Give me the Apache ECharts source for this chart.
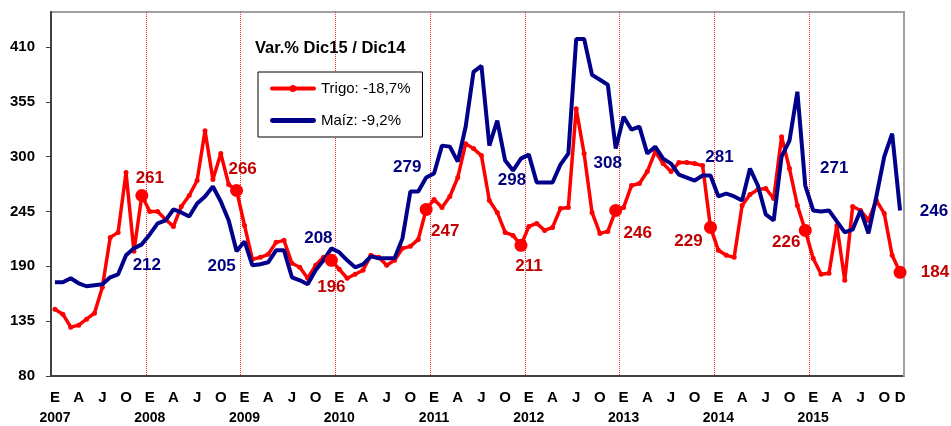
<!DOCTYPE html>
<html>
<head>
<meta charset="utf-8">
<script src="https://cdn.jsdelivr.net/npm/echarts@6/dist/echarts.min.js"></script>
<style>
  html, body { margin: 0; padding: 0; background: #fff; }
  #chart { width: 951px; height: 426px; }
</style>
</head>
<body>
<div id="chart"></div>
<script>
// ---- data ----
const years = [2007, 2008, 2009, 2010, 2011, 2012, 2013, 2014, 2015];
const monthLetters = ['E', 'F', 'M', 'A', 'M', 'J', 'J', 'A', 'S', 'O', 'N', 'D'];
const seriesNames = ['Trigo: -18,7%', 'Maíz: -9,2%'];
const titleText = 'Var.% Dic15 / Dic14';

const trigo = [
  147, 142, 129, 131, 137, 143, 169, 219, 224, 284, 205, 261,
  245, 245, 237, 230, 250, 261, 276, 326, 277, 303, 272, 266,
  231, 197, 199, 202, 214, 216, 193, 189, 178, 191, 199, 196,
  187, 178, 182, 186, 201, 199, 191, 196, 208, 210, 217, 247,
  257, 249, 260, 279, 313, 308, 301, 256, 244, 224, 221, 211,
  230, 233, 226, 229, 248, 249, 348, 303, 244, 223, 225, 246,
  249, 271, 273, 285, 305, 293, 285, 294, 294, 293, 291, 229,
  206, 201, 199, 251, 262, 267, 268, 258, 320, 288, 251, 226,
  198, 182, 183, 231, 176, 250, 246, 236, 256, 243, 201, 184
];
const maiz = [
  174, 174, 178, 173, 170, 171, 172, 179, 182, 201, 208, 212,
  222, 233, 236, 247, 244, 240, 253, 260, 270, 255, 236, 205,
  215, 191, 192, 194, 206, 206, 179, 176, 172, 186, 196, 208,
  204, 196, 189, 192, 200, 198, 198, 198, 218, 265, 265, 279,
  283, 311, 310, 295, 330, 385, 391, 311, 336, 296, 286, 298,
  302, 274, 274, 274, 292, 303, 418, 418, 382, 377, 372, 308,
  340, 327, 330, 303, 310, 298, 293, 282, 279, 276, 281, 281,
  260, 263, 260, 256, 288, 271, 242, 236, 300, 316, 365, 271,
  246, 245, 246, 235, 224, 227, 246, 223, 260, 300, 323, 246
];

// ---- layout of the December annotations (label offsets, px) ----
const redOffsets = [[8,-17],[6,-21],[0,27],[19,22],[8,21],[22,23],[-22,14],[-19,12],[35,0]];
const blueOffsets = [[5,21],[-15,15],[-13,-10],[-19,-10],[-9,22],[-8,15],[9,-18],[29,-17],[34,1]];

const categories = [];
years.forEach(y => monthLetters.forEach(m => categories.push(m + ' ' + y)));

const decIdx = years.map((y, k) => k * 12 + 11);

const FONT = 'Liberation Sans, Arial, sans-serif';
const RED = '#ff0000', RED_LBL = '#c00000', BLUE = '#00008b', BLUE_LBL = '#000080';

const redMarks = decIdx.map((i, k) => ({
  coord: [i, trigo[i]], value: trigo[i],
  label: { offset: redOffsets[k] }
}));
const blueMarks = decIdx.map((i, k) => ({
  coord: [i, maiz[i]], value: maiz[i],
  label: { offset: blueOffsets[k] }
}));

const chart = echarts.init(document.getElementById('chart'), null, { renderer: 'canvas' });
chart.setOption({
  animation: false,
  backgroundColor: '#fff',
  textStyle: { fontFamily: FONT },
  title: {
    text: titleText, left: 255, top: 40, padding: 0,
    textStyle: { fontFamily: FONT, fontSize: 16.5, fontWeight: 'bold', color: '#000' }
  },
  legend: {
    orient: 'vertical', left: 258, top: 72,
    padding: [9, 12, 9, 12],
    backgroundColor: '#fff', borderColor: '#000', borderWidth: 1, borderRadius: 0,
    itemWidth: 46, itemHeight: 14, itemGap: 17,
    textStyle: { fontFamily: FONT, fontSize: 15, color: '#000' },
    data: [
      { name: seriesNames[0], icon: 'path://M2,-2 L44,-2 A2,2 0 0,1 44,2 L2,2 A2,2 0 0,1 2,-2 Z M23,-3.5 A3.5,3.5 0 1,1 22.99,-3.5 Z M0,-7 L0,-7 M46,7 L46,7', itemStyle: { color: RED } },
      { name: seriesNames[1], icon: 'path://M2,-2.5 L44,-2.5 A2.5,2.5 0 0,1 44,2.5 L2,2.5 A2.5,2.5 0 0,1 2,-2.5 Z M0,-7 L0,-7 M46,7 L46,7', itemStyle: { color: BLUE } }
    ]
  },
  grid: {
    left: 51, right: 47, top: 12, bottom: 50,
    show: true, borderColor: '#a0a0a0', borderWidth: 2, backgroundColor: 'transparent'
  },
  xAxis: {
    type: 'category', data: categories, boundaryGap: true,
    axisLine: { lineStyle: { color: '#404040', width: 2 } },
    axisTick: { show: false },
    splitLine: {
      show: true,
      interval: (i) => i > 0 && i % 12 === 0 && i < categories.length,
      lineStyle: { color: '#ff0000', width: 1, type: 'dotted', opacity: 0.85 }
    },
    axisLabel: {
      interval: (i) => i % 3 === 0 || i === categories.length - 1,
      margin: 11,
      formatter: (v, i) => {
        const m = monthLetters[i % 12];
        if (i % 12 === 0) return '{m|' + m + '}\n{y|' + years[Math.floor(i / 12)] + '}';
        return '{m|' + m + '}';
      },
      rich: {
        m: { fontFamily: FONT, fontSize: 15, fontWeight: 'bold', color: '#000', lineHeight: 21 },
        y: { fontFamily: FONT, fontSize: 14, fontWeight: 'bold', color: '#000', lineHeight: 21 }
      }
    }
  },
  yAxis: [
    {
      type: 'value', min: 80, max: 445, interval: 55,
      axisLine: { show: true, lineStyle: { color: '#404040', width: 2 } },
      axisTick: { show: true, length: 5, lineStyle: { color: '#404040', width: 1 } },
      splitLine: { show: false },
      axisLabel: {
        showMaxLabel: false, margin: 16,
        fontFamily: FONT, fontSize: 15, fontWeight: 'bold', color: '#000'
      }
    },
    {
      type: 'value', min: 80, max: 445, interval: 55, position: 'right', z: 1,
      axisLine: { show: true, lineStyle: { color: '#a0a0a0', width: 2 } },
      axisTick: { show: false }, axisLabel: { show: false }, splitLine: { show: false }
    }
  ],
  series: [
    {
      name: seriesNames[0], type: 'line', data: trigo,
      color: RED,
      lineStyle: { color: RED, width: 3.5 },
      itemStyle: { color: RED },
      symbol: 'circle', symbolSize: 5, showSymbol: true,
      z: 2,
      markPoint: {
        symbol: 'circle', symbolSize: 13,
        itemStyle: { color: RED },
        label: {
          show: true, position: 'inside', color: RED_LBL,
          fontFamily: FONT, fontSize: 17, fontWeight: 'bold',
          formatter: (p) => String(p.value)
        },
        data: redMarks
      }
    },
    {
      name: seriesNames[1], type: 'line', data: maiz,
      color: BLUE,
      lineStyle: { color: BLUE, width: 4 },
      itemStyle: { color: BLUE },
      symbol: 'none', showSymbol: false,
      z: 3,
      markPoint: {
        symbol: 'circle', symbolSize: 1,
        itemStyle: { color: 'rgba(0,0,0,0)' },
        label: {
          show: true, position: 'inside', color: BLUE_LBL,
          fontFamily: FONT, fontSize: 17, fontWeight: 'bold',
          formatter: (p) => String(p.value)
        },
        data: blueMarks
      }
    }
  ]
});
</script>
</body>
</html>
